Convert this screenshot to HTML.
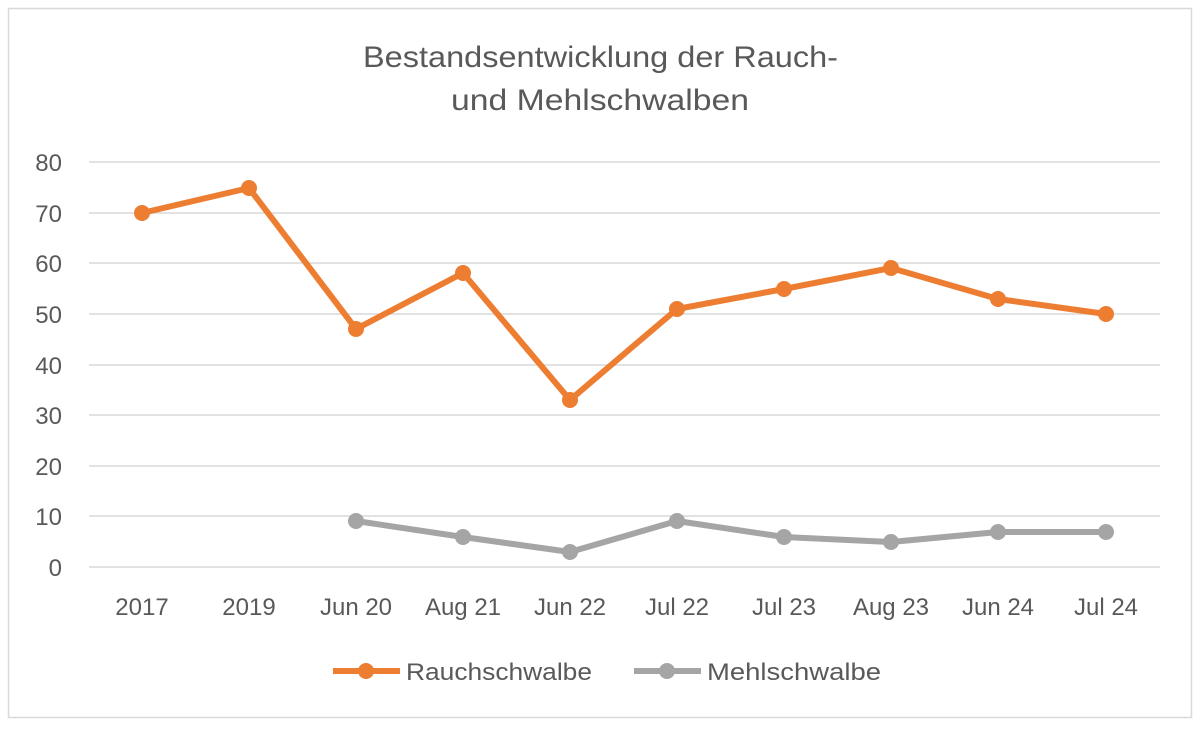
<!DOCTYPE html>
<html><head><meta charset="utf-8"><style>
body{margin:0;background:#fff;}
</style></head><body>
<svg width="1200" height="725" xmlns="http://www.w3.org/2000/svg" font-family="'Liberation Sans',sans-serif">
<rect x="0" y="0" width="1200" height="725" fill="#fff"/>
<rect x="8.5" y="8.5" width="1183" height="709" fill="#fff" stroke="#d9d9d9" stroke-width="1.5"/>
<text x="363" y="67" font-size="30" fill="#595959" textLength="475" lengthAdjust="spacingAndGlyphs">Bestandsentwicklung der Rauch-</text>
<text x="451" y="110" font-size="30" fill="#595959" textLength="298" lengthAdjust="spacingAndGlyphs">und Mehlschwalben</text>
<g stroke="#d9d9d9" stroke-width="1.5">
<line x1="89" x2="1160" y1="162" y2="162"/>
<line x1="89" x2="1160" y1="213" y2="213"/>
<line x1="89" x2="1160" y1="263" y2="263"/>
<line x1="89" x2="1160" y1="314" y2="314"/>
<line x1="89" x2="1160" y1="365" y2="365"/>
<line x1="89" x2="1160" y1="415" y2="415"/>
<line x1="89" x2="1160" y1="466" y2="466"/>
<line x1="89" x2="1160" y1="516" y2="516"/>
<line x1="89" x2="1160" y1="567" y2="567"/>
</g>
<g font-size="24" fill="#595959" text-anchor="end">
<text x="62" y="171">80</text><text x="62" y="222">70</text><text x="62" y="272">60</text>
<text x="62" y="323">50</text><text x="62" y="374">40</text><text x="62" y="424">30</text>
<text x="62" y="475">20</text><text x="62" y="525">10</text><text x="62" y="576">0</text>
</g>
<g font-size="24" fill="#595959" text-anchor="middle">
<text x="142" y="615">2017</text><text x="249" y="615">2019</text><text x="356" y="615">Jun 20</text>
<text x="463" y="615">Aug 21</text><text x="570" y="615">Jun 22</text><text x="677" y="615">Jul 22</text>
<text x="784" y="615">Jul 23</text><text x="891" y="615">Aug 23</text><text x="998" y="615">Jun 24</text>
<text x="1106" y="615">Jul 24</text>
</g>
<polyline fill="none" stroke="#ed7d31" stroke-width="6" stroke-linejoin="round" points="142,213 249,188 356,329 463,273 570,400 677,309 784,289 891,268 998,299 1106,314"/>
<g fill="#ed7d31">
<circle cx="142" cy="213" r="8"/><circle cx="249" cy="188" r="8"/><circle cx="356" cy="329" r="8"/>
<circle cx="463" cy="273" r="8"/><circle cx="570" cy="400" r="8"/><circle cx="677" cy="309" r="8"/>
<circle cx="784" cy="289" r="8"/><circle cx="891" cy="268" r="8"/><circle cx="998" cy="299" r="8"/>
<circle cx="1106" cy="314" r="8"/>
</g>
<polyline fill="none" stroke="#a5a5a5" stroke-width="6" stroke-linejoin="round" points="356,521 463,537 570,552 677,521 784,537 891,542 998,532 1106,532"/>
<g fill="#a5a5a5">
<circle cx="356" cy="521" r="8"/><circle cx="463" cy="537" r="8"/><circle cx="570" cy="552" r="8"/>
<circle cx="677" cy="521" r="8"/><circle cx="784" cy="537" r="8"/><circle cx="891" cy="542" r="8"/>
<circle cx="998" cy="532" r="8"/><circle cx="1106" cy="532" r="8"/>
</g>
<line x1="333" x2="400" y1="671" y2="671" stroke="#ed7d31" stroke-width="6"/>
<circle cx="366" cy="671" r="8" fill="#ed7d31"/>
<text x="406" y="680" font-size="24" fill="#595959" textLength="186" lengthAdjust="spacingAndGlyphs">Rauchschwalbe</text>
<line x1="634" x2="701" y1="671" y2="671" stroke="#a5a5a5" stroke-width="6"/>
<circle cx="667" cy="671" r="8" fill="#a5a5a5"/>
<text x="707" y="680" font-size="24" fill="#595959" textLength="174" lengthAdjust="spacingAndGlyphs">Mehlschwalbe</text>
</svg>
</body></html>
